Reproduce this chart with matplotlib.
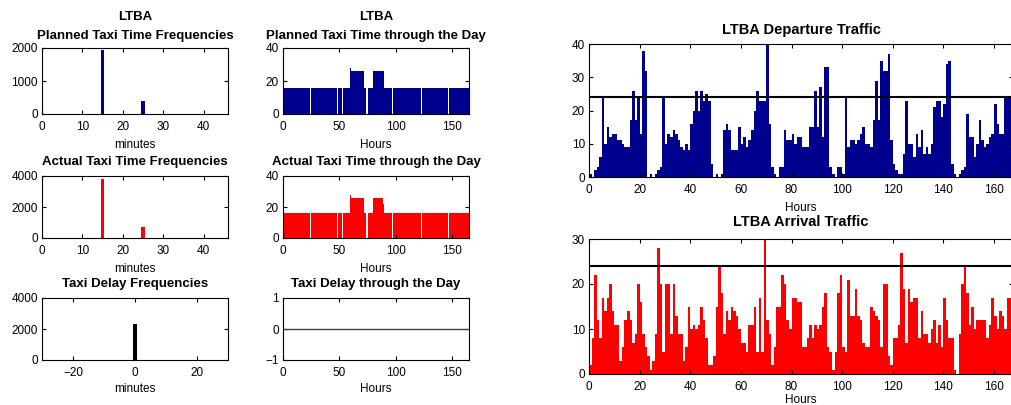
import numpy as np
import matplotlib.pyplot as plt

plt.rcParams['font.family'] = ['Liberation Sans', 'DejaVu Sans']

# taxi time histograms (minutes -> counts)
planned_minutes = [15, 25]
planned_counts = [1940, 400]
actual_minutes = [15, 25]
actual_counts = [3800, 740]
delay_minutes = [0]
delay_counts = [2300]

# mean taxi time through the week, as runs of (value, number of hours)
planned_levels = [16, 0, 16, 0, 16, 0, 16, 28, 26, 16, 0, 16, 26, 16, 0, 16, 0, 16, 0, 16]
planned_runs = [24, 1, 23, 1, 3, 1, 6, 1, 12, 2, 1, 5, 10, 7, 1, 24, 1, 23, 1, 19]
actual_levels = [16, 0, 16, 0, 16, 0, 16, 28, 26, 16, 0, 16, 26, 22, 16, 0, 16, 0, 16, 0, 16]
actual_runs = [24, 1, 23, 1, 3, 1, 6, 1, 12, 2, 1, 5, 9, 1, 7, 1, 24, 1, 23, 1, 19]

# hourly movements over the week (hours 0..166)
departures = [
    1, 0, 2, 3, 6, 24, 10, 15, 12, 13,
    13, 11, 11, 10, 9, 9, 17, 26, 17, 24,
    13, 38, 32, 0, 1, 0, 1, 2, 3, 24,
    10, 13, 12, 14, 13, 11, 9, 8, 10, 8,
    16, 20, 26, 20, 26, 23, 25, 23, 4, 0,
    1, 0, 1, 14, 16, 14, 8, 8, 8, 15,
    10, 12, 9, 11, 14, 20, 26, 23, 23, 23,
    40, 16, 3, 1, 0, 3, 3, 14, 11, 11,
    13, 10, 12, 12, 9, 9, 9, 15, 15, 26,
    15, 27, 12, 33, 33, 3, 1, 0, 3, 3,
    1, 24, 9, 11, 11, 10, 11, 13, 15, 10,
    10, 9, 17, 29, 17, 35, 32, 32, 37, 11,
    4, 2, 1, 1, 7, 23, 10, 10, 6, 13,
    9, 14, 7, 9, 7, 10, 21, 23, 23, 18,
    22, 34, 35, 4, 1, 0, 1, 2, 3, 19,
    12, 12, 6, 10, 17, 11, 9, 10, 12, 13,
    22, 16, 13, 13, 24, 24, 24,
]
arrivals = [
    2, 8, 22, 12, 8, 17, 14, 17, 20, 14,
    11, 11, 3, 6, 12, 14, 12, 7, 9, 20,
    16, 9, 6, 4, 1, 3, 9, 28, 20, 5,
    20, 20, 9, 20, 13, 9, 9, 3, 6, 15,
    10, 11, 10, 11, 15, 12, 8, 2, 2, 4,
    15, 24, 18, 9, 14, 12, 15, 14, 13, 10,
    7, 7, 5, 11, 11, 15, 5, 17, 5, 30,
    12, 9, 2, 6, 15, 15, 22, 20, 12, 10,
    17, 17, 16, 16, 6, 6, 8, 11, 8, 11,
    10, 11, 15, 18, 6, 5, 1, 5, 18, 22,
    6, 5, 21, 13, 13, 19, 13, 12, 7, 6,
    6, 15, 14, 13, 12, 6, 20, 20, 4, 2,
    8, 8, 11, 27, 19, 7, 19, 16, 17, 17,
    8, 14, 9, 9, 7, 10, 12, 7, 11, 6,
    17, 12, 8, 8, 1, 0, 9, 20, 24, 18,
    11, 15, 10, 12, 12, 12, 12, 8, 11, 17,
    13, 10, 14, 13, 10, 17, 17,
]
capacity = 24

blue = (0, 0, 0.5625)
red = (1, 0, 0)

W, H = 1011, 405
fig = plt.figure(figsize=(W / 100, H / 100), dpi=100)


def px_axes(l, t, r, b):
    # axes from pixel box (left, top, right, bottom)
    ax = fig.add_axes([l / W, 1 - b / H, (r - l) / W, (b - t) / H])
    ax.tick_params(direction='in', top=True, right=True, length=3,
                   labelsize=8.5, pad=5)
    ax.tick_params(axis='y', pad=3)
    for s in ax.spines.values():
        s.set_linewidth(0.8)
    return ax


def title(ax, txt, pad=8, size=9.5):
    ax.set_title(txt, fontsize=size, fontweight='bold', pad=pad, linespacing=1.75)


def xlab(ax, txt, pad=4):
    ax.set_xlabel(txt, fontsize=8.5, labelpad=pad)


# --- left block ---
ax = px_axes(42, 48, 228, 114)
ax.bar(planned_minutes, planned_counts, width=0.9, color=blue)
ax.set_xlim(0, 46)
ax.set_ylim(0, 2000)
ax.set_yticks([0, 1000, 2000])
ax.set_xticks([0, 10, 20, 30, 40])
xlab(ax, 'minutes')
title(ax, 'LTBA\nPlanned Taxi Time Frequencies', pad=6.5)

hours = np.arange(sum(planned_runs))
ax = px_axes(283, 48, 469, 114)
ax.bar(hours, np.repeat(planned_levels, planned_runs), width=1, align='edge',
       color=blue, linewidth=0)
ax.set_xlim(0, 165)
ax.set_ylim(0, 40)
ax.set_yticks([0, 20, 40])
ax.set_xticks([0, 50, 100, 150])
xlab(ax, 'Hours')
title(ax, 'LTBA\nPlanned Taxi Time through the Day', pad=6.5)

ax = px_axes(42, 176, 228, 238)
ax.bar(actual_minutes, actual_counts, width=0.9, color=red)
ax.set_xlim(0, 46)
ax.set_ylim(0, 4000)
ax.set_yticks([0, 2000, 4000])
ax.set_xticks([0, 10, 20, 30, 40])
xlab(ax, 'minutes')
title(ax, 'Actual Taxi Time Frequencies')

hours = np.arange(sum(actual_runs))
ax = px_axes(283, 176, 469, 238)
ax.bar(hours, np.repeat(actual_levels, actual_runs), width=1, align='edge',
       color=red, linewidth=0)
ax.set_xlim(0, 165)
ax.set_ylim(0, 40)
ax.set_yticks([0, 20, 40])
ax.set_xticks([0, 50, 100, 150])
xlab(ax, 'Hours')
title(ax, 'Actual Taxi Time through the Day')

ax = px_axes(42, 298, 228, 360)
ax.bar(delay_minutes, delay_counts, width=1, color='k')
ax.set_xlim(-30, 30)
ax.set_ylim(0, 4000)
ax.set_yticks([0, 2000, 4000])
ax.set_xticks([-20, 0, 20])
xlab(ax, 'minutes', pad=3)
title(ax, 'Taxi Delay Frequencies')

ax = px_axes(283, 298, 469, 360)
ax.plot([0, 165], [0, 0], color='#404040', lw=1)
ax.set_xlim(0, 165)
ax.set_ylim(-1, 1)
ax.set_yticks([-1, 0, 1])
ax.set_xticks([0, 50, 100, 150])
xlab(ax, 'Hours', pad=3)
title(ax, 'Taxi Delay through the Day')

# --- right block ---
week = np.arange(len(departures))
ax = px_axes(589, 44, 1013, 177)
ax.bar(week, departures, width=1, align='edge', color=blue, linewidth=0)
ax.axhline(capacity, color='k', lw=1.5)
ax.set_xlim(0, 167.5)
ax.set_ylim(0, 40)
ax.set_yticks([0, 10, 20, 30, 40])
ax.set_xticks(range(0, 161, 20))
xlab(ax, 'Hours')
title(ax, 'LTBA Departure Traffic', pad=7, size=10.5)

week = np.arange(len(arrivals))
ax = px_axes(589, 239, 1013, 374)
ax.bar(week, arrivals, width=1, align='edge', color=red, linewidth=0)
ax.axhline(capacity, color='k', lw=1.5)
ax.set_xlim(0, 167.5)
ax.set_ylim(0, 30)
ax.set_yticks([0, 10, 20, 30])
ax.set_xticks(range(0, 161, 20))
xlab(ax, 'Hours', pad=1)
title(ax, 'LTBA Arrival Traffic', pad=9.5, size=10.5)

fig.savefig('out.png', dpi=100)
